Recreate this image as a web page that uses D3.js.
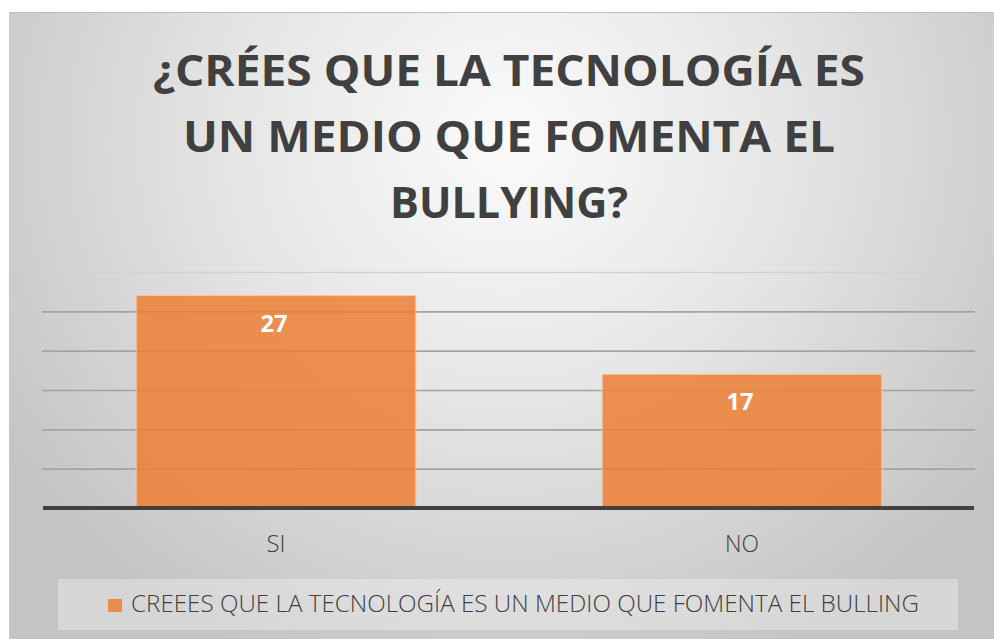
<!DOCTYPE html>
<html>
<head>
<meta charset="utf-8">
<script src="https://cdn.jsdelivr.net/npm/d3@7"></script>
<style>
  html, body { margin: 0; padding: 0; background: #ffffff; }
  svg { display: block; }
</style>
</head>
<body>
<svg id="chart" width="994" height="639"></svg>
<script>
const categories = ["SI", "NO"];
const values = [27, 17];
const seriesName = "CREEES QUE LA TECNOLOGÍA ES UN MEDIO QUE FOMENTA EL BULLING";
const titleLines = ["¿CRÉES QUE LA TECNOLOGÍA ES", "UN MEDIO QUE FOMENTA EL", "BULLYING?"];
const tickValues = [0, 5, 10, 15, 20, 25, 30];

const svg = d3.select("#chart");
const defs = svg.append("defs");
const grad = defs.append("radialGradient")
  .attr("id", "bg").attr("gradientUnits", "userSpaceOnUse")
  .attr("cx", 509).attr("cy", 140).attr("r", 600)
  .attr("gradientTransform", "translate(509,140) scale(1,0.95) translate(-509,-140)");
grad.append("stop").attr("offset", "0").attr("stop-color", "#fbfbfb");
grad.append("stop").attr("offset", "0.45").attr("stop-color", "#e6e6e6");
grad.append("stop").attr("offset", "1").attr("stop-color", "#c4c4c4");

// chart area
svg.append("rect").attr("x", 9).attr("y", 12).attr("width", 1000).attr("height", 640)
  .attr("fill", "url(#bg)");
svg.append("line").attr("x1", 9).attr("x2", 994).attr("y1", 12.5).attr("y2", 12.5)
  .attr("stroke", "#bdbdbd").attr("stroke-width", 1);
svg.append("line").attr("x1", 9.5).attr("x2", 9.5).attr("y1", 12).attr("y2", 639)
  .attr("stroke", "#c9c9c9").attr("stroke-width", 1);

// title
const title = svg.append("g").attr("font-family", "'Open Sans', sans-serif")
  .attr("font-weight", 700).attr("fill", "#404040").attr("text-anchor", "middle");
const titleWidths = [712, 652, 238];
const titleBase = [86, 152, 218];
titleLines.forEach((t, i) => {
  title.append("text").attr("x", 509).attr("y", titleBase[i])
    .attr("font-size", 43)
    .attr("textLength", titleWidths[i]).attr("lengthAdjust", "spacingAndGlyphs")
    .text(t);
});

// scales
const x = d3.scaleBand().domain(categories).range([43, 975])
  .paddingInner(0.4).paddingOuter(0.2);
const y = d3.scaleLinear().domain([0, 30]).range([508, 272]);

// gridlines
const grid = svg.append("g").attr("transform", "translate(0,0)")
  .call(d3.axisLeft(y).tickValues(tickValues.filter(v => v > 0))
    .tickSize(-(975 - 42)).tickFormat(""))
  .attr("transform", "translate(975,0)");
grid.select(".domain").remove();
grid.selectAll(".tick line")
  .attr("transform", "translate(-933,0)")
  .attr("x2", 933)
  .attr("stroke", (d) => d === 30 ? "#d2d2d2" : "#a3a3a3")
  .attr("stroke-width", 1.6);

// bars
svg.append("g").selectAll("rect").data(values).join("rect")
  .attr("x", (d, i) => x(categories[i]))
  .attr("y", d => y(d))
  .attr("width", x.bandwidth())
  .attr("height", d => y(0) - y(d))
  .attr("fill", "#ED7D31").attr("fill-opacity", 0.84)
  .attr("stroke", "#f6c7a4").attr("stroke-width", 1);

// baseline axis
const xAxis = svg.append("g").attr("transform", `translate(0,${y(0)})`)
  .call(d3.axisBottom(x).tickSize(0).tickPadding(0));
xAxis.select(".domain").attr("d", "M43,0H974").attr("stroke", "#404040").attr("stroke-width", 4);
xAxis.selectAll(".tick text")
  .attr("y", 44).attr("dy", 0)
  .attr("font-family", "'Open Sans', sans-serif").attr("font-weight", 300)
  .attr("font-size", 23).attr("fill", "#404040")
  .attr("textLength", d => d === "SI" ? 19 : 34).attr("lengthAdjust", "spacingAndGlyphs");

// data labels
svg.append("g").selectAll("text").data(values).join("text")
  .attr("x", (d, i) => x(categories[i]) + x.bandwidth() / 2 - 2)
  .attr("y", d => y(d) + 36)
  .attr("text-anchor", "middle")
  .attr("font-family", "'Open Sans', sans-serif").attr("font-weight", 700)
  .attr("font-size", 23).attr("fill", "#ffffff")
  .attr("textLength", 27).attr("lengthAdjust", "spacingAndGlyphs")
  .text(d => d);

// legend
const lg = svg.append("g");
lg.append("rect").attr("x", 58).attr("y", 579).attr("width", 900).attr("height", 51)
  .attr("fill", "#ffffff").attr("fill-opacity", 0.3);
lg.append("rect").attr("x", 108).attr("y", 599).attr("width", 14).attr("height", 13)
  .attr("fill", "#ED7D31").attr("fill-opacity", 0.84);
lg.append("text").attr("x", 131).attr("y", 612)
  .attr("font-family", "'Open Sans', sans-serif").attr("font-weight", 300)
  .attr("font-size", 23).attr("fill", "#404040")
  .attr("textLength", 788).attr("lengthAdjust", "spacingAndGlyphs")
  .text(seriesName);
</script>
</body>
</html>
